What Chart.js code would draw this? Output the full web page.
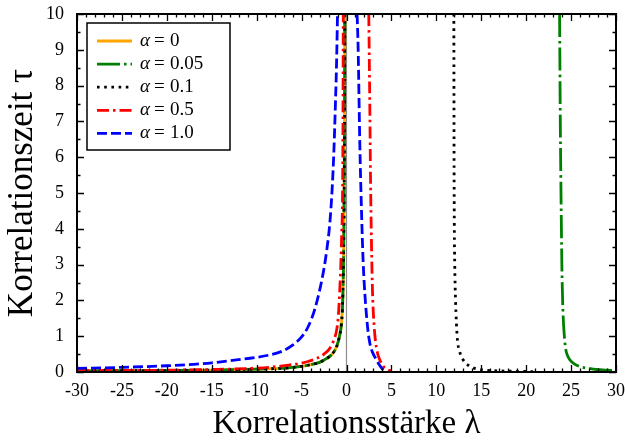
<!DOCTYPE html>
<html>
<head>
<meta charset="utf-8">
<script src="https://cdn.jsdelivr.net/npm/chart.js@4/dist/chart.umd.min.js"></script>
<style>
  html, body { margin: 0; padding: 0; background: #fff; }
  #wrap { width: 625px; height: 441px; }
</style>
</head>
<body>
<div id="wrap"><canvas id="tauChart"></canvas></div>
<script>
// Korrelationszeit tau gegen Korrelationsstaerke lambda fuer verschiedene alpha

const alphaValues = ['0', '0.05', '0.1', '0.5', '1.0'];
const xTicksMin = -30, xTicksMax = 30;
const yTicksMin = 0, yTicksMax = 10;

// linker Ast, gemeinsam fuer alpha = 0, 0.05, 0.1
const lamLeft = [-30, -25, -20, -15, -10, -7.5, -6.3, -5, -4.1, -3, -2.2, -1.6, -1.1, -0.8, -0.56, -0.42, -0.35, -0.3, -0.26, -0.22, -0.19];
const tauLeft = [0.03, 0.035, 0.04, 0.055, 0.08, 0.1, 0.12, 0.16, 0.2, 0.27, 0.38, 0.5, 0.71, 0.98, 1.36, 2.0, 2.8, 3.8, 5.0, 7.0, 10];

// alpha = 0.05, rechter Ast
const lamRightA005 = [23.72, 23.8, 23.9, 24.0, 24.12, 24.25, 24.39, 24.6, 24.87, 25.4, 25.98, 27, 27.8, 29, 30];
const tauRightA005 = [10, 7, 4.5, 2.6, 1.55, 1.0, 0.66, 0.46, 0.34, 0.22, 0.15, 0.1, 0.07, 0.05, 0.04];

// alpha = 0.1, rechter Ast
const lamRightA01 = [11.95, 11.97, 12.0, 12.05, 12.14, 12.32, 12.6, 12.98, 13.65, 14.3, 15.5, 17, 19, 21];
const tauRightA01 = [10, 6.5, 4.2, 3.0, 2.0, 0.99, 0.57, 0.34, 0.17, 0.1, 0.05, 0.03, 0.02, 0.01];

// alpha = 0.5
const lamLeftA05 = [-30, -25, -20, -15, -10, -7.8, -6.3, -5.2, -4.2, -3.3, -2.5, -1.86, -1.4, -1.1, -0.9, -0.75, -0.62, -0.53, -0.45, -0.4, -0.36];
const tauLeftA05 = [0.04, 0.045, 0.05, 0.07, 0.11, 0.15, 0.2, 0.24, 0.3, 0.38, 0.5, 0.66, 0.9, 1.17, 1.6, 2.29, 3.1, 3.9, 4.7, 6.5, 10];
const lamRightA05 = [2.48, 2.6, 2.67, 2.78, 2.9, 3.08, 3.26, 3.48, 3.71, 4.1, 4.63, 5.0];
const tauRightA05 = [10, 7.3, 5.5, 3.6, 2.2, 1.27, 0.8, 0.5, 0.34, 0.16, 0.06, 0.03];

// alpha = 1.0
const lamLeftA1 = [-30, -25, -20, -17, -15, -12.5, -10, -8.5, -7, -6, -5, -4.3, -3.5, -2.6, -2.2, -1.86, -1.6, -1.4, -1.22, -1.1, -1.0];
const tauLeftA1 = [0.1, 0.13, 0.175, 0.215, 0.255, 0.33, 0.41, 0.48, 0.6, 0.75, 0.98, 1.25, 1.78, 2.76, 3.4, 4.15, 5.1, 6.2, 7.6, 8.7, 10];
const lamRightA1 = [1.18, 1.29, 1.48, 1.67, 1.85, 2.04, 2.34, 2.6, 2.95, 3.34, 3.7, 4.08, 4.4];
const tauRightA1 = [10, 9.1, 6.4, 4.5, 3.1, 2.2, 1.27, 0.8, 0.52, 0.34, 0.18, 0.06, 0.02];

const serif = '"Liberation Serif", "Times New Roman", serif';

function pts(lams, taus) {
  return lams.map((x, i) => ({ x: x, y: taus[i] }));
}
// zwei Aeste mit Luecke dazwischen
function branches(l1, t1, l2, t2) {
  const gapX = (l1[l1.length - 1] + l2[0]) / 2;
  return pts(l1, t1).concat([{ x: gapX, y: null }], pts(l2, t2));
}

function curve(alpha, data, color, dash, order) {
  return {
    label: alpha,
    data: data,
    borderColor: color,
    borderWidth: 2.8,
    borderDash: dash,
    borderCapStyle: 'butt',
    pointRadius: 0,
    showLine: true,
    spanGaps: false,
    cubicInterpolationMode: 'monotone',
    order: order
  };
}

const datasets = [
  curve(alphaValues[0], pts(lamLeft, tauLeft), '#ffa500', [], 5),
  curve(alphaValues[1], branches(lamLeft, tauLeft, lamRightA005, tauRightA005), '#008000', [23, 4, 2.5, 4], 4),
  curve(alphaValues[2], branches(lamLeft, tauLeft, lamRightA01, tauRightA01), '#000000', [2.6, 4.6], 3),
  curve(alphaValues[3], branches(lamLeftA05, tauLeftA05, lamRightA05, tauRightA05), '#ff0000', [12, 4, 2.5, 4], 2),
  curve(alphaValues[4], branches(lamLeftA1, tauLeftA1, lamRightA1, tauRightA1), '#0000ff', [10, 4], 1),
  // senkrechte Linie bei lambda = 0
  { label: '', data: [{ x: 0, y: yTicksMin }, { x: 0, y: yTicksMax }], borderColor: '#8c8c8c', borderWidth: 1.2,
    pointRadius: 0, showLine: true, order: 10 }
];

// Rahmen mit Teilstrichen nach innen
const frameTicks = {
  id: 'frameTicks',
  afterDatasetsDraw(chart) {
    const { ctx, chartArea: a, scales: { x, y } } = chart;
    ctx.save();
    ctx.strokeStyle = '#000';
    ctx.lineWidth = 1.3;
    ctx.beginPath();
    for (let v = xTicksMin; v <= xTicksMax; v++) {
      const px = Math.round(x.getPixelForValue(v)) + 0.5;
      const len = v % 5 === 0 ? 7 : 3.5;
      ctx.moveTo(px, a.bottom); ctx.lineTo(px, a.bottom - len);
      ctx.moveTo(px, a.top); ctx.lineTo(px, a.top + len);
    }
    for (let k = yTicksMin * 2; k <= yTicksMax * 2; k++) {
      const py = Math.round(y.getPixelForValue(k / 2)) + 0.5;
      const len = k % 2 === 0 ? 7 : 3.5;
      ctx.moveTo(a.left, py); ctx.lineTo(a.left + len, py);
      ctx.moveTo(a.right, py); ctx.lineTo(a.right - len, py);
    }
    ctx.stroke();
    ctx.lineWidth = 2;
    ctx.strokeRect(a.left, a.top, a.right - a.left, a.bottom - a.top);
    ctx.restore();
  }
};

// Legende im Kasten oben links
const boxLegend = {
  id: 'boxLegend',
  afterDraw(chart) {
    const { ctx, chartArea: a } = chart;
    const bx = a.left + 10, by = a.top + 9, bw = 143, bh = 127;
    ctx.save();
    ctx.fillStyle = '#fff';
    ctx.fillRect(bx, by, bw, bh);
    ctx.strokeStyle = '#000';
    ctx.lineWidth = 1.5;
    ctx.strokeRect(bx, by, bw, bh);
    chart.data.datasets.forEach((ds, i) => {
      if (!ds.label) return;
      const ly = by + 18 + i * 23.1;
      ctx.strokeStyle = ds.borderColor;
      ctx.lineWidth = ds.borderWidth;
      ctx.setLineDash(ds.borderDash || []);
      ctx.beginPath();
      ctx.moveTo(bx + 10, ly);
      ctx.lineTo(bx + 45, ly);
      ctx.stroke();
      ctx.setLineDash([]);
      ctx.fillStyle = '#000';
      ctx.textBaseline = 'middle';
      ctx.textAlign = 'left';
      ctx.font = 'italic 19px ' + serif;
      ctx.fillText('α', bx + 53, ly);
      ctx.font = '19px ' + serif;
      ctx.fillText('=', bx + 67, ly);
      ctx.fillText(ds.label, bx + 83, ly);
    });
    ctx.restore();
  }
};

// keine Extra-Raender fuer ueberstehende Beschriftungen
function noOverhang(s) {
  s.paddingLeft = 0; s.paddingRight = 0; s.paddingTop = 0; s.paddingBottom = 0;
}

new Chart(document.getElementById('tauChart'), {
  type: 'scatter',
  data: { datasets: datasets },
  plugins: [frameTicks, boxLegend],
  options: {
    responsive: true,
    maintainAspectRatio: false,
    animation: false,
    layout: { padding: { top: 14, right: 9, left: 0, bottom: 0 } },
    plugins: { legend: { display: false }, tooltip: { enabled: false } },
    scales: {
      x: {
        type: 'linear',
        min: xTicksMin,
        max: xTicksMax,
        afterFit: s => { s.height = 69; noOverhang(s); },
        grid: { display: false, drawTicks: false },
        border: { display: false },
        ticks: { stepSize: 5, padding: 8, color: '#000', font: { family: serif, size: 18 },
                 callback: v => String(v), maxRotation: 0 },
        title: { display: true, text: 'Korrelationsstärke λ', color: '#000',
                 font: { family: serif, size: 33 }, padding: { top: 0, bottom: -3 } }
      },
      y: {
        type: 'linear',
        min: yTicksMin,
        max: yTicksMax,
        afterFit: s => { s.width = 77; noOverhang(s); },
        grid: { display: false, drawTicks: false },
        border: { display: false },
        ticks: { stepSize: 1, padding: 13, color: '#000', font: { family: serif, size: 18 } },
        title: { display: true, text: 'Korrelationszeit τ', color: '#000',
                 font: { family: serif, size: 35 }, padding: { top: 2, bottom: 0 } }
      }
    }
  }
});
</script>
</body>
</html>
